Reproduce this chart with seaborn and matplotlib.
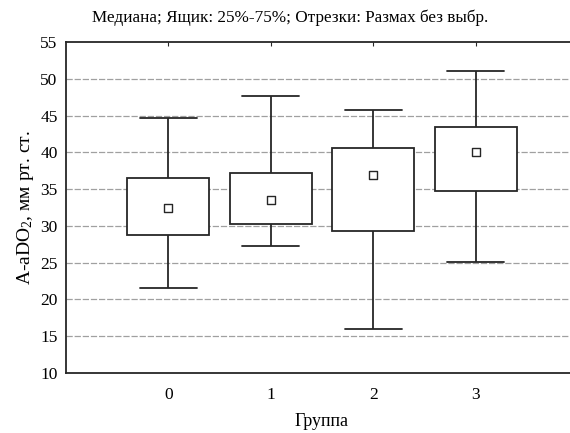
import matplotlib
matplotlib.use("Agg")
import matplotlib.pyplot as plt
import seaborn as sns
import pandas as pd

# ---- data ----
groups = ["0", "1", "2", "3"]
mins = [21.5, 27.3, 16.0, 25.1]
q1s = [28.7, 30.2, 29.3, 34.7]
medians = [32.4, 33.5, 36.9, 40.0]
q3s = [36.5, 37.2, 40.6, 43.5]
maxs = [44.7, 47.6, 45.8, 51.0]
yticks = [10, 15, 20, 25, 30, 35, 40, 45, 50, 55]

title = "Медиана; Ящик: 25%-75%; Отрезки: Размах без выбр."
xlabel = "Группа"
ylabel = "A-aDO$_2$, мм рт. ст."

# five-number data per group: with whis=(0,100) the box/whiskers reproduce them exactly
rows = []
for g, a, b, c, d, e in zip(groups, mins, q1s, medians, q3s, maxs):
    for v in (a, b, c, d, e):
        rows.append({"group": g, "value": v})
df = pd.DataFrame(rows)

sns.set_theme(style="white")
plt.rcParams["font.family"] = ["Liberation Serif", "DejaVu Serif"]
plt.rcParams["mathtext.fontset"] = "custom"
plt.rcParams["mathtext.rm"] = "Liberation Serif"
plt.rcParams["mathtext.it"] = "Liberation Serif:italic"
plt.rcParams["text.color"] = "black"
plt.rcParams["axes.labelcolor"] = "black"
plt.rcParams["xtick.color"] = "black"
plt.rcParams["ytick.color"] = "black"

fig = plt.figure(figsize=(5.70, 4.33), dpi=100)
# axes spans pixel x 66..578 (right edge just beyond the image), y 42..373
ax = fig.add_axes([66 / 570, 1 - 373 / 433, 512 / 570, (373 - 42) / 433])

# grid first (behind boxes)
for yv in yticks[1:-1]:
    ax.axhline(yv, color="#a0a0a0", lw=0.9, ls=(0, (5, 1.5)), zorder=0)

edge = "#262626"
sns.boxplot(data=df, x="group", y="value", order=groups, whis=(0, 100), width=0.8,
            color="white", linecolor=edge, linewidth=1.3, showfliers=False,
            medianprops={"visible": False}, capwidths=0.56, ax=ax, zorder=2)

sns.scatterplot(x=groups, y=medians, marker="s", s=32, color="white",
                edgecolor=edge, linewidth=1.0, ax=ax, zorder=3)

ax.set_xlim(-1, 4)
ax.set_ylim(10, 55)
ax.set_yticks(yticks)
ax.set_xticks(range(len(groups)))
ax.set_xticklabels(groups)
ax.tick_params(axis="both", direction="in", length=3, width=0.8, color=edge,
               labelsize=12.5, labelcolor="black", top=True, labeltop=False,
               right=False, pad=6)
ax.tick_params(axis="x", pad=10)
for side in ("left", "top", "bottom"):
    ax.spines[side].set_color(edge)
    ax.spines[side].set_linewidth(1.3)
ax.spines["right"].set_visible(False)

ax.set_xlabel(xlabel, fontsize=13, labelpad=7, color="black")
ax.set_ylabel(ylabel, fontsize=14, labelpad=3, color="black")
fig.text(290.5 / 570, 1 - 18 / 433, title, ha="center", va="center",
         fontsize=12.3, color="black")

fig.savefig("out.png", dpi=100)
